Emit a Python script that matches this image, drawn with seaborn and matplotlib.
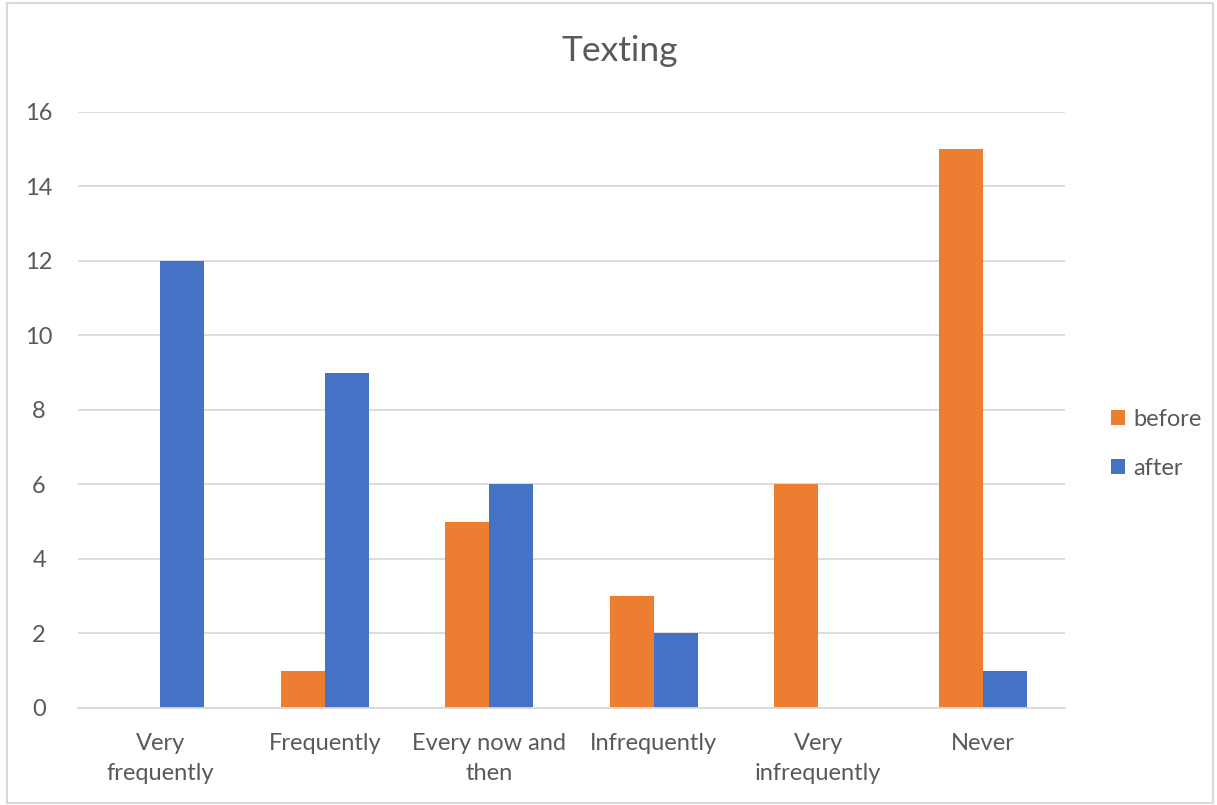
import matplotlib
matplotlib.use("Agg")
import matplotlib.pyplot as plt
from matplotlib.patches import Rectangle
import seaborn as sns
import pandas as pd

categories = ["Very\nfrequently", "Frequently", "Every now and\nthen", "Infrequently",
              "Very\ninfrequently", "Never"]
before = [0, 1, 5, 3, 6, 15]
after = [12, 9, 6, 2, 0, 1]
series_names = ["before", "after"]
colors = ["#ED7D31", "#4472C4"]
y_ticks = [0, 2, 4, 6, 8, 10, 12, 14, 16]

df = pd.DataFrame({
    "category": categories * 2,
    "value": before + after,
    "series": [series_names[0]] * len(categories) + [series_names[1]] * len(categories),
})

sns.set_theme(style="white")
plt.rcParams["font.family"] = ["Lato", "DejaVu Sans"]
text_color = "#595959"

fig = plt.figure(figsize=(12.17, 8.05), dpi=100)
ax = fig.add_axes([0.0641, 0.1205, 0.811, 0.7405])

sns.barplot(data=df, x="category", y="value", hue="series", order=categories,
            hue_order=series_names, palette=colors, width=0.535, saturation=1,
            linewidth=0, ax=ax, legend=True)

ax.set_ylim(0, 16)
ax.set_yticks(y_ticks)
ax.set_xlim(-0.5, len(categories) - 0.5)
ax.yaxis.grid(True, color="#D9D9D9", linewidth=1.3)
ax.set_axisbelow(True)
for side in ["top", "right", "left"]:
    ax.spines[side].set_visible(False)
ax.spines["bottom"].set_color("#D9D9D9")
ax.spines["bottom"].set_linewidth(1.3)
ax.set_xlabel("")
ax.set_ylabel("")
ax.tick_params(axis="both", length=0, colors=text_color, labelsize=17)
ax.tick_params(axis="x", pad=18)
ax.tick_params(axis="y", pad=28)
for lbl in ax.get_xticklabels():
    lbl.set_linespacing(1.55)
for lbl in ax.get_yticklabels():
    lbl.set_horizontalalignment("center")

fig.text(0.509, 0.937, "Texting", ha="center", va="center", fontsize=25.5, color=text_color)

leg = ax.legend(loc="center left", bbox_to_anchor=(1.025, 0.443), frameon=False,
                fontsize=17, handlelength=0.6, handleheight=0.6, handletextpad=0.35,
                labelspacing=1.2)
for t in leg.get_texts():
    t.set_color(text_color)

fig.patches.append(Rectangle((0.006, 0.003), 0.991, 0.993, transform=fig.transFigure,
                             fill=False, edgecolor="#D9D9D9", linewidth=1.5))

fig.savefig("out.png", dpi=100)
